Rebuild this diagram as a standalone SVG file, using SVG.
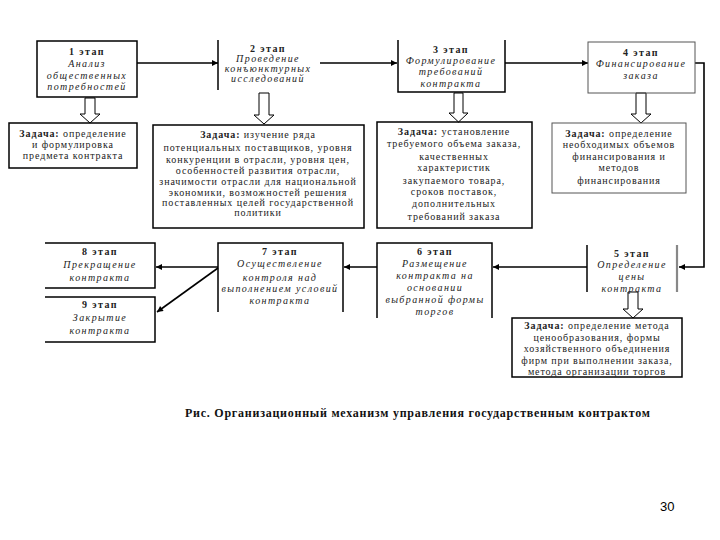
<svg xmlns="http://www.w3.org/2000/svg" width="720" height="540" viewBox="0 0 720 540">
<defs>
<marker id="ah" viewBox="0 0 10 10" refX="10" refY="5" markerWidth="7" markerHeight="6" orient="auto" markerUnits="userSpaceOnUse">
<path d="M0,0 L10,5 L0,10 z" fill="#000"/>
</marker>
</defs>
<style>
.b{fill:none;stroke:#000;stroke-width:1.5}
.g{fill:none;stroke:#555;stroke-width:1}
.h{fill:#fff;stroke:#000;stroke-width:1}
.c{fill:none;stroke:#000;stroke-width:1.6;marker-end:url(#ah)}
.st{font-family:"Liberation Serif","DejaVu Serif",serif;font-size:10px;font-style:italic;letter-spacing:1.4px;text-anchor:middle;fill:#222}
.sn{font-style:normal;font-weight:bold}
.tk{font-family:"Liberation Serif","DejaVu Serif",serif;font-size:10px;letter-spacing:0.9px;text-anchor:middle;fill:#222}
.bd{font-weight:bold}
.cap{font-family:"Liberation Serif","DejaVu Serif",serif;font-size:12px;font-weight:bold;fill:#111}
.pg{font-family:"Liberation Sans",Arial,sans-serif;font-size:13px;fill:#000}
</style>
<rect width="720" height="540" fill="#fff"/>

<g id="connectors">
<line class="c" x1="137" y1="63" x2="218" y2="63"/>
<line class="c" x1="320" y1="63" x2="397" y2="63"/>
<line class="c" x1="505" y1="63" x2="588" y2="63"/>
<polyline class="c" points="695,63 704,63 704,267 679,267"/>
<line class="c" x1="587" y1="267" x2="493" y2="267"/>
<line class="c" x1="377" y1="267" x2="344" y2="267"/>
<line class="c" x1="218" y1="267" x2="156" y2="267"/>
<line class="c" x1="218" y1="268" x2="157" y2="312"/>
<polygon class="h" points="85,98 95,98 95,114 100,114 90,123 80,114 85,114"/>
<polygon class="h" points="259,93 269,93 269,115 274,115 264,124 254,115 259,115"/>
<polygon class="h" points="454,93 463,93 463,113 468,113 458.5,122 449,113 454,113"/>
<polygon class="h" points="636,93 646,93 646,114 651,114 641,123 631,114 636,114"/>
<polygon class="h" points="628,292 638,292 638,309 643,309 633,318 623,309 628,309"/>
</g>

<g id="stage1">
<rect class="b" x="37" y="41" width="100" height="56"/>
<text class="st" x="87"><tspan class="sn" x="87" y="55">1 этап</tspan><tspan x="87" y="67">Анализ</tspan><tspan x="87" y="79">общественных</tspan><tspan x="87" y="90">потребностей</tspan></text>
</g>
<g id="stage2">
<line class="b" x1="218" y1="40" x2="218" y2="90"/>
<text class="st" x="268"><tspan class="sn" x="268" y="52">2 этап</tspan><tspan x="268" y="62">Проведение</tspan><tspan x="268" y="72">конъюнктурных</tspan><tspan x="268" y="82">исследований</tspan></text>
</g>
<g id="stage3">
<path class="b" d="M398,40 V92 H505 V40"/>
<text class="st" x="451"><tspan class="sn" x="451" y="53">3 этап</tspan><tspan x="451" y="64">Формулирование</tspan><tspan x="451" y="75">требований</tspan><tspan x="451" y="87">контракта</tspan></text>
</g>
<g id="stage4">
<rect class="g" x="588" y="42" width="107" height="51"/>
<text class="st" x="641"><tspan class="sn" x="641" y="56">4 этап</tspan><tspan x="641" y="67">Финансирование</tspan><tspan x="641" y="79">заказа</tspan></text>
</g>

<g id="task1">
<rect class="b" x="9" y="123" width="128" height="45"/>
<text class="tk" x="73"><tspan x="73" y="137"><tspan class="bd">Задача:</tspan> определение</tspan><tspan x="73" y="148">и формулировка</tspan><tspan x="73" y="159">предмета контракта</tspan></text>
</g>
<g id="task2">
<rect class="b" x="153" y="125" width="211" height="103"/>
<text class="tk" x="258"><tspan x="258" y="138"><tspan class="bd">Задача:</tspan> изучение ряда</tspan><tspan x="258" y="151">потенциальных поставщиков, уровня</tspan><tspan x="258" y="163">конкуренции в отрасли, уровня цен,</tspan><tspan x="258" y="174">особенностей развития отрасли,</tspan><tspan x="258" y="185">значимости отрасли для национальной</tspan><tspan x="258" y="196">экономики, возможностей решения</tspan><tspan x="258" y="206">поставленных целей государственной</tspan><tspan x="258" y="216">политики</tspan></text>
</g>
<g id="task3">
<rect class="b" x="377" y="122" width="155" height="106"/>
<text class="tk" x="454"><tspan x="454" y="135"><tspan class="bd">Задача:</tspan> установление</tspan><tspan x="454" y="147">требуемого объема заказа,</tspan><tspan x="454" y="160">качественных</tspan><tspan x="454" y="171">характеристик</tspan><tspan x="454" y="184">закупаемого товара,</tspan><tspan x="454" y="195">сроков поставок,</tspan><tspan x="454" y="207">дополнительных</tspan><tspan x="454" y="220">требований заказа</tspan></text>
</g>
<g id="task4">
<rect class="g" x="552" y="123" width="134" height="70"/>
<text class="tk" x="619"><tspan x="619" y="137"><tspan class="bd">Задача:</tspan> определение</tspan><tspan x="619" y="148">необходимых объемов</tspan><tspan x="619" y="160">финансирования и</tspan><tspan x="619" y="171">методов</tspan><tspan x="619" y="184">финансирования</tspan></text>
</g>

<g id="stage5">
<line class="b" x1="587" y1="245" x2="587" y2="292"/>
<line x1="677" y1="245" x2="677" y2="292" stroke="#888" stroke-width="2.2"/>
<text class="st" x="632"><tspan class="sn" x="632" y="257">5 этап</tspan><tspan x="632" y="268">Определение</tspan><tspan x="632" y="280">цены</tspan><tspan x="632" y="292">контракта</tspan></text>
</g>
<g id="task5">
<rect class="b" x="512" y="318" width="170" height="59"/>
<text class="tk" x="597"><tspan x="597" y="329"><tspan class="bd">Задача:</tspan> определение метода</tspan><tspan x="597" y="341">ценообразования, формы</tspan><tspan x="597" y="352">хозяйственного объединения</tspan><tspan x="597" y="364">фирм при выполнении заказа,</tspan><tspan x="597" y="375">метода организации торгов</tspan></text>
</g>
<g id="stage6">
<path class="b" d="M377,318 V243 H492 V318"/>
<text class="st" x="435"><tspan class="sn" x="435" y="255">6 этап</tspan><tspan x="435" y="267">Размещение</tspan><tspan x="435" y="279">контракта на</tspan><tspan x="435" y="291">основании</tspan><tspan x="435" y="303">выбранной формы</tspan><tspan x="435" y="315">торгов</tspan></text>
</g>
<g id="stage7">
<path class="b" d="M218,312 V243 H343 V312"/>
<text class="st" x="280"><tspan class="sn" x="280" y="255">7 этап</tspan><tspan x="280" y="267">Осуществление</tspan><tspan x="280" y="281">контроля над</tspan><tspan x="280" y="292">выполнением условий</tspan><tspan x="280" y="304">контракта</tspan></text>
</g>
<g id="stage8">
<path class="b" d="M45,243 H155 V288 H45"/>
<text class="st" x="100"><tspan class="sn" x="100" y="255">8 этап</tspan><tspan x="100" y="268">Прекращение</tspan><tspan x="100" y="281">контракта</tspan></text>
</g>
<g id="stage9">
<path class="b" d="M45,297 H155 V342 H45"/>
<text class="st" x="100"><tspan class="sn" x="100" y="308">9 этап</tspan><tspan x="100" y="321">Закрытие</tspan><tspan x="100" y="334">контракта</tspan></text>
</g>

<text class="cap" x="185" y="417" textLength="465" lengthAdjust="spacing">Рис. Организационный механизм управления государственным контрактом</text>
<text class="pg" x="660" y="511">30</text>
</svg>
